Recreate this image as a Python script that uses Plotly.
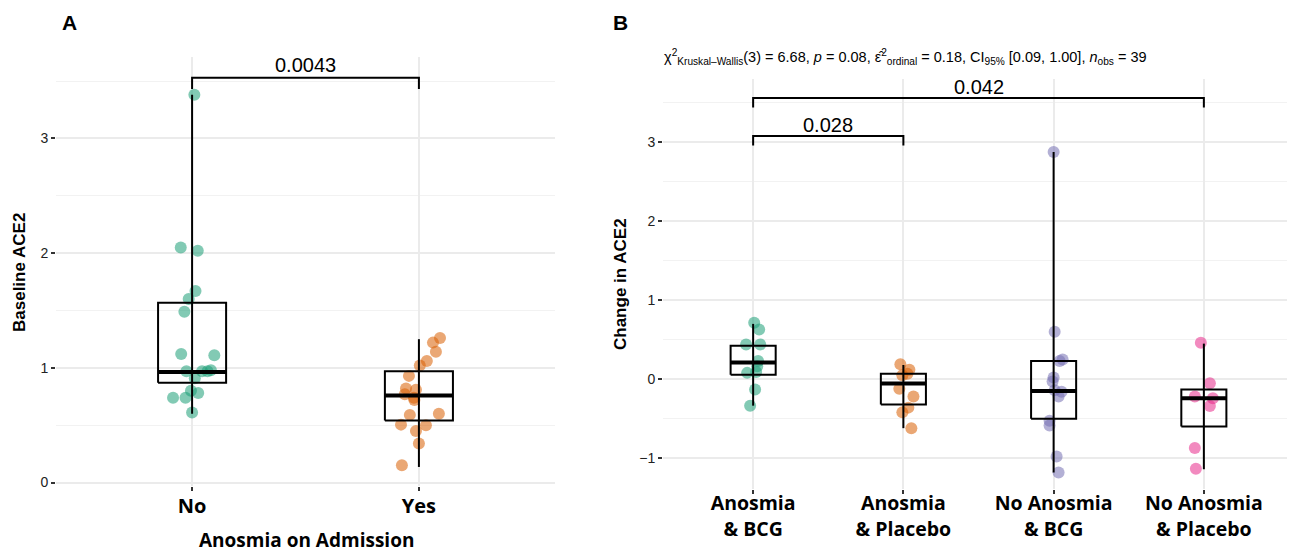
import plotly.graph_objects as go

# ---------------- Data ----------------
# Panel A: Baseline ACE2 by anosmia on admission
a_categories = ["No", "Yes"]
a_no_values = [3.38, 2.05, 2.02, 1.67, 1.60, 1.49, 1.12, 1.11, 0.97, 0.91, 0.97, 0.97, 0.98, 0.80, 0.78, 0.74, 0.74, 0.61]
a_no_jitter = [0.01, -0.05, 0.025, 0.015, -0.015, -0.034, -0.048, 0.098, -0.025, 0.012, 0.044, 0.068, 0.083, -0.005, 0.027, -0.084, -0.029, 0.0]
a_yes_values = [1.26, 1.22, 1.14, 1.06, 1.02, 0.93, 0.82, 0.81, 0.77, 0.74, 0.72, 0.59, 0.60, 0.505, 0.50, 0.45, 0.34, 0.15]
a_yes_jitter = [0.093, 0.062, 0.075, 0.035, 0.004, -0.044, -0.057, -0.013, -0.062, -0.022, -0.02, -0.04, 0.088, -0.079, 0.031, -0.013, 0.0, -0.075]
a_q1 = [0.87, 0.54]
a_median = [0.963, 0.76]
a_q3 = [1.568, 0.97]
a_low = [0.60, 0.136]
a_high = [3.38, 1.25]
a_pvalue = "0.0043"

# Panel B: Change in ACE2 by group
b_categories = ["Anosmia<br>& BCG", "Anosmia<br>& Placebo", "No Anosmia<br>& BCG", "No Anosmia<br>& Placebo"]
b_g1_values = [0.715, 0.63, 0.44, 0.44, 0.23, 0.165, 0.08, 0.09, -0.13, -0.335]
b_g1_jitter = [0.007, 0.04, -0.047, 0.047, 0.033, 0.027, -0.04, 0.02, 0.013, -0.02]
b_g2_values = [0.19, 0.12, 0.07, 0.05, -0.12, -0.22, -0.36, -0.42, -0.62]
b_g2_jitter = [-0.02, 0.04, 0.027, -0.007, -0.027, 0.067, 0.033, -0.007, 0.053]
b_g3_values = [2.875, 0.60, 0.25, 0.23, 0.02, -0.03, -0.14, -0.16, -0.22, -0.525, -0.585, -0.98, -1.18]
b_g3_jitter = [0.0, 0.007, 0.06, 0.04, 0.0, -0.007, 0.007, 0.053, 0.033, -0.027, -0.027, 0.02, 0.033]
b_g4_values = [0.46, -0.05, -0.22, -0.24, -0.34, -0.87, -1.135]
b_g4_jitter = [-0.02, 0.04, -0.06, 0.06, 0.04, -0.06, -0.053]
b_q1 = [0.055, -0.32, -0.50, -0.60]
b_median = [0.21, -0.055, -0.15, -0.24]
b_q3 = [0.423, 0.07, 0.23, -0.13]
b_low = [-0.335, -0.62, -1.18, -1.14]
b_high = [0.70, 0.18, 2.875, 0.45]
b_comparisons = [(0, 1, 3.077, "0.028"), (0, 3, 3.56, "0.042")]

colors = ["#1B9E77", "#D95F02", "#7570B3", "#E7298A"]
subtitle = ("χ<sup>2</sup><sub>Kruskal–Wallis</sub>(3) = 6.68, <i>p</i> = 0.08, "
            "ε̂<sup>2</sup><sub>ordinal</sub> = 0.18, CI<sub>95%</sub> [0.09, 1.00], "
            "<i>n</i><sub>obs</sub> = 39")

# The page body has an 8px margin, so the figure is offset by (8, 8).
OFF = 8
W, H = 1295 - OFF, 552 - OFF
BOX_HALF = 0.15


def px(x):
    return (x - OFF) / W


def py(y):
    return 1 - (y - OFF) / H


fig = go.Figure()


def add_points(vals, jit, idx, color, xa, ya):
    fig.add_trace(go.Scatter(
        x=[idx + j for j in jit], y=vals, mode="markers",
        marker=dict(size=12, color=color, opacity=0.55, line=dict(width=0)),
        xaxis=xa, yaxis=ya, showlegend=False, hoverinfo="y"))


def add_box(idx, q1, med, q3, lo, hi, xa, ya):
    w = BOX_HALF
    fig.add_trace(go.Scatter(x=[idx, idx], y=[lo, hi], mode="lines",
                             line=dict(color="black", width=2),
                             xaxis=xa, yaxis=ya, showlegend=False, hoverinfo="skip"))
    fig.add_trace(go.Scatter(x=[idx - w, idx + w, idx + w, idx - w, idx - w],
                             y=[q1, q1, q3, q3, q1], mode="lines",
                             line=dict(color="black", width=2),
                             xaxis=xa, yaxis=ya, showlegend=False, hoverinfo="skip"))
    fig.add_trace(go.Scatter(x=[idx - w, idx + w], y=[med, med], mode="lines",
                             line=dict(color="black", width=4),
                             xaxis=xa, yaxis=ya, showlegend=False, hoverinfo="skip"))


def add_bracket(i, j, y, leg, label, xa, ya, ylabel):
    fig.add_trace(go.Scatter(x=[i, i, j, j], y=[y - leg, y, y, y - leg], mode="lines",
                             line=dict(color="black", width=2),
                             xaxis=xa, yaxis=ya, showlegend=False, hoverinfo="skip"))
    fig.add_annotation(x=(i + j) / 2, y=ylabel, xref=xa, yref=ya, text=label,
                       showarrow=False, xanchor="center", yanchor="middle",
                       font=dict(family="Liberation Sans, Arial", size=20, color="black"))


# Panel A
add_points(a_no_values, a_no_jitter, 0, colors[0], "x", "y")
add_points(a_yes_values, a_yes_jitter, 1, colors[1], "x", "y")
for k in range(2):
    add_box(k, a_q1[k], a_median[k], a_q3[k], a_low[k], a_high[k], "x", "y")
add_bracket(0, 1, 3.53, 0.10, a_pvalue, "x", "y", 3.64)

# Panel B
groups = [(b_g1_values, b_g1_jitter), (b_g2_values, b_g2_jitter),
          (b_g3_values, b_g3_jitter), (b_g4_values, b_g4_jitter)]
for k, (v, j) in enumerate(groups):
    add_points(v, j, k, colors[k], "x2", "y2")
for k in range(4):
    add_box(k, b_q1[k], b_median[k], b_q3[k], b_low[k], b_high[k], "x2", "y2")
label_y = {"0.028": 3.216, "0.042": 3.70}
for i, j, y, lab in b_comparisons:
    add_bracket(i, j, y, 0.12, lab, "x2", "y2", label_y[lab])

grid = "#EBEBEB"
tickfont_y = dict(family="Liberation Sans, Arial", size=14, color="#222")

common_y = dict(showgrid=True, gridcolor=grid, gridwidth=1.5, zeroline=False,
                ticks="outside", ticklen=4, tickwidth=2, tickcolor="#333",
                tickfont=tickfont_y, showline=False, tick0=0, dtick=1, automargin=False,
                minor=dict(dtick=0.5, showgrid=True, gridcolor="#F2F2F2", gridwidth=1, ticks=""))
common_x = dict(showgrid=True, gridcolor=grid, gridwidth=1.5, zeroline=False,
                ticks="outside", ticklen=4, tickwidth=2, tickcolor="#333",
                showline=False, automargin=False)

fig.update_layout(
    width=W, height=H,
    margin=dict(l=0, r=0, t=0, b=0),
    plot_bgcolor="white", paper_bgcolor="white",
    showlegend=False,
    xaxis=dict(domain=[px(56), px(555)], range=[-0.6, 1.6], tickvals=[0, 1],
               ticktext=a_categories, anchor="y", ticklabelstandoff=-2,
               tickfont=dict(family="Open Sans", size=20, color="black", weight="bold"),
               **common_x),
    yaxis=dict(domain=[py(486), py(57)], range=[-0.03, 3.71], anchor="x", **common_y),
    xaxis2=dict(domain=[px(663), min(1.0, px(1294))], range=[-0.6, 3.6], tickvals=[0, 1, 2, 3],
                ticktext=b_categories, anchor="y2", ticklabelstandoff=-7,
                tickfont=dict(family="Open Sans", size=19.5, color="black", weight="bold"),
                **common_x),
    yaxis2=dict(domain=[py(489), py(79)], range=[-1.39, 3.80], anchor="x2", **common_y),
)


def label(x, y, text, font, **kw):
    fig.add_annotation(x=px(x), y=py(y), xref="paper", yref="paper", text=text,
                       showarrow=False, xanchor=kw.pop("xanchor", "center"),
                       yanchor=kw.pop("yanchor", "middle"), font=font, **kw)


# Titles and labels
label(69, 22, "<b>A</b>", dict(family="Liberation Sans, Arial", size=21, color="black"))
label(620, 22, "<b>B</b>", dict(family="Liberation Sans, Arial", size=21, color="black"))
label(20, 273, "<b>Baseline ACE2</b>", dict(family="Liberation Sans, Arial", size=17, color="black"),
      textangle=-90)
label(620, 284, "<b>Change in ACE2</b>", dict(family="Liberation Sans, Arial", size=17, color="black"),
      textangle=-90)
label(306, 540, "Anosmia on Admission",
      dict(family="Open Sans", size=19, color="black", weight="bold"))
label(662, 57, subtitle, dict(family="Liberation Sans, Arial", size=14.5, color="black"),
      xanchor="left")

fig.write_html("out.html")
